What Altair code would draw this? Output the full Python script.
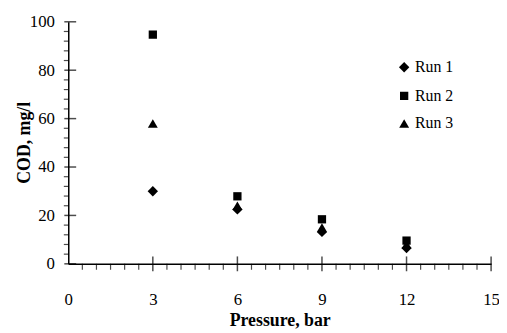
import altair as alt
import pandas as pd

# data
pressure = [3, 6, 9, 12]
run1 = [30, 22.5, 13.2, 6.5]
run2 = [94.7, 27.9, 18.4, 9.6]
run3 = [58, 24, 15, 8]
series_names = ["Run 1", "Run 2", "Run 3"]
series_shapes = ["diamond", "square", "triangle-up"]
series_sizes = [110, 70, 100]

x_major = [3, 6, 9, 12, 15]
x_labels = [0, 3, 6, 9, 12, 15]
x_minor = [v / 2 for v in range(0, 31) if v % 6 != 0]
y_major = [0, 20, 40, 60, 80, 100]
y_minor = [v for v in range(0, 101, 4) if v % 20 != 0]

rows = []
for name, vals in zip(series_names, [run1, run2, run3]):
    for p, v in zip(pressure, vals):
        rows.append({"Pressure": p, "COD": v, "Run": name})
df = pd.DataFrame(rows)

FONT = "'Liberation Serif', 'Times New Roman', serif"
xscale = alt.Scale(domain=[0, 15], nice=False, zero=False)
yscale = alt.Scale(domain=[0, 100], nice=False, zero=False)

legend = alt.Legend(orient="none", legendX=332, legendY=38, title=None,
                    labelFont=FONT, labelFontSize=16, labelColor="black",
                    labelFontWeight="normal",
                    labelOffset=3, rowPadding=12,
                    symbolFillColor="black", symbolStrokeColor="black",
                    padding=0)

points = alt.Chart(df).mark_point(filled=True, color="black", opacity=1).encode(
    x=alt.X("Pressure:Q", scale=xscale,
            axis=alt.Axis(values=x_labels, ticks=False, labelPadding=28, labelFont=FONT,
                          labelFontSize=17, labelFontWeight="normal", labelColor="black",
                          domainColor="black",
                          domainWidth=1.5, grid=False, title="Pressure, bar",
                          titleFont=FONT, titleFontSize=18, titleFontWeight="bold",
                          titleColor="black", titlePadding=4, labelFlush=False)),
    y=alt.Y("COD:Q", scale=yscale,
            axis=alt.Axis(values=y_major, ticks=False, labelPadding=14, labelFont=FONT,
                          labelFontSize=17, labelFontWeight="normal", labelColor="black",
                          domainColor="black",
                          domainWidth=1.5, grid=False, title="COD, mg/l",
                          titleFont=FONT, titleFontSize=18, titleFontWeight="bold",
                          titleColor="black", titleX=-44, titleY=122, titleAngle=270,
                          titleAlign="center", titleBaseline="middle", labelFlush=False)),
    shape=alt.Shape("Run:N", scale=alt.Scale(domain=series_names, range=series_shapes),
                    legend=legend),
    size=alt.Size("Run:N", scale=alt.Scale(type="ordinal", domain=series_names,
                                           range=series_sizes),
                  legend=legend),
)

xmaj = alt.Chart(pd.DataFrame({"x": x_major})).mark_tick(
    orient="vertical", size=15, thickness=1.5, color="black"
).encode(x=alt.X("x:Q", scale=xscale), y=alt.datum(0, scale=yscale))

xmin = alt.Chart(pd.DataFrame({"x": x_minor})).mark_tick(
    orient="vertical", size=6, thickness=1.2, color="black", yOffset=3
).encode(x=alt.X("x:Q", scale=xscale), y=alt.datum(0, scale=yscale))

ymaj = alt.Chart(pd.DataFrame({"y": y_major})).mark_tick(
    orient="horizontal", size=12, thickness=1.5, color="black", xOffset=2
).encode(y=alt.Y("y:Q", scale=yscale), x=alt.datum(0, scale=xscale))

ymin = alt.Chart(pd.DataFrame({"y": y_minor})).mark_tick(
    orient="horizontal", size=5, thickness=1.2, color="black", xOffset=-2
).encode(y=alt.Y("y:Q", scale=yscale), x=alt.datum(0, scale=xscale))

chart = alt.layer(xmin, xmaj, ymin, ymaj, points).properties(
    width=428, height=245,
    autosize=alt.AutoSizeParams(type="none"),
    padding={"left": 61, "top": 12, "right": 8, "bottom": 64},
    background="white",
).configure(font=FONT).configure_view(stroke=None).configure_axis(
    labelFont=FONT
).configure_legend(labelFont=FONT)

chart.save("out.html", embed_options={"renderer": "svg", "actions": False})
